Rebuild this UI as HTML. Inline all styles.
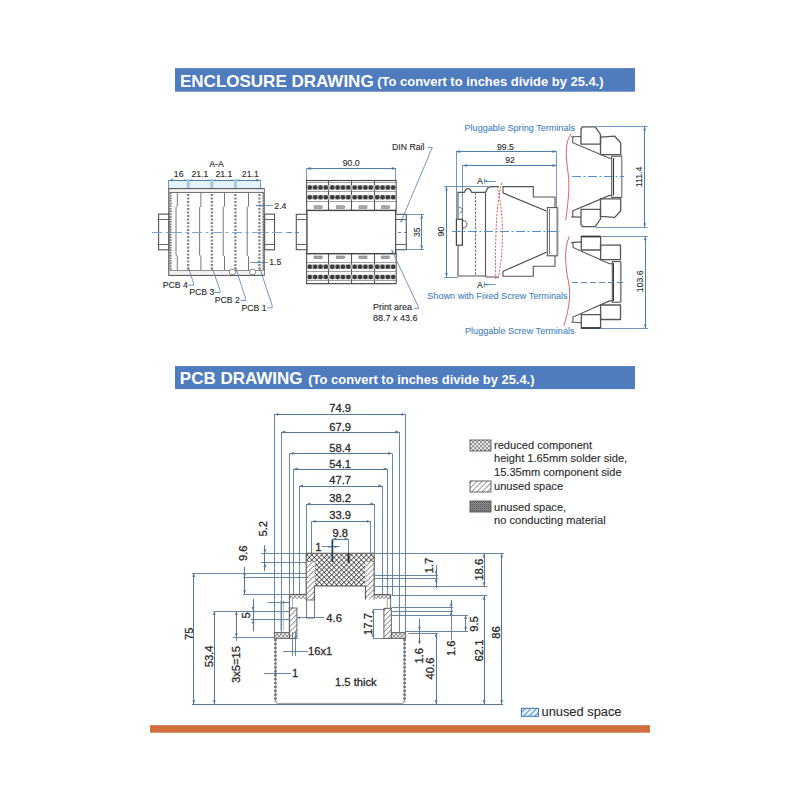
<!DOCTYPE html>
<html><head><meta charset="utf-8"><title>Enclosure and PCB drawing</title>
<style>
html,body{margin:0;padding:0;background:#fff;}
body{width:800px;height:800px;overflow:hidden;font-family:"Liberation Sans",sans-serif;}
svg{display:block;}
svg text{font-family:"Liberation Sans",sans-serif;}
</style></head>
<body>
<svg width="800" height="800" viewBox="0 0 800 800">
<defs>
<pattern id="xh" width="2.8" height="2.8" patternUnits="userSpaceOnUse" patternTransform="rotate(45)"><rect width="2.8" height="2.8" fill="#fff"/><path d="M0,0 L0,2.8 M0,0 L2.8,0" stroke="#3a3a3a" stroke-width="1.05"/></pattern>
<pattern id="xh2" width="3.5" height="3.5" patternUnits="userSpaceOnUse" patternTransform="rotate(45)"><rect width="3.5" height="3.5" fill="#fff"/><path d="M0,0 L0,3.5 M0,0 L3.5,0" stroke="#2a2a2a" stroke-width="1.4"/></pattern>
<pattern id="dh" width="3.7" height="3.7" patternUnits="userSpaceOnUse" patternTransform="rotate(45)"><rect width="3.7" height="3.7" fill="#fff"/><line x1="0" y1="0" x2="0" y2="3.7" stroke="#444" stroke-width="1.1"/></pattern>
<pattern id="dk" width="2" height="2" patternUnits="userSpaceOnUse"><rect width="2" height="2" fill="#8c8c8c"/><rect width="1" height="1" fill="#555"/><rect x="1" y="1" width="1" height="1" fill="#777"/></pattern>
<pattern id="bh" width="4" height="4" patternUnits="userSpaceOnUse" patternTransform="rotate(45)"><rect width="4" height="4" fill="#e2f2fc"/><line x1="0" y1="0" x2="0" y2="4" stroke="#3577b8" stroke-width="1.6"/></pattern>
</defs>
<rect x="175" y="68.1" width="460" height="23.6" fill="#4f7bbf" stroke="none" stroke-width="1" />
<text x="180.0" y="86.7" font-size="17.0" fill="#fff" text-anchor="start" font-weight="bold" >ENCLOSURE DRAWING</text>
<text x="377.3" y="86.2" font-size="12.95" fill="#fff" text-anchor="start" font-weight="bold" >(To convert to inches divide by 25.4.)</text>
<rect x="175" y="366.1" width="460" height="23" fill="#4f7bbf" stroke="none" stroke-width="1" />
<text x="179.8" y="383.9" font-size="17.0" fill="#fff" text-anchor="start" font-weight="bold" >PCB DRAWING</text>
<text x="308.3" y="383.8" font-size="12.95" fill="#fff" text-anchor="start" font-weight="bold" >(To convert to inches divide by 25.4.)</text>
<rect x="150" y="725.2" width="500" height="7.5" fill="#d06e3e" stroke="none" stroke-width="1" />
<text x="216.5" y="166.6" font-size="8.7" fill="#2b2b2b" text-anchor="middle" font-weight="normal" stroke="#2b2b2b" stroke-width="0.12" >A-A</text>
<text x="178.7" y="177.0" font-size="8.7" fill="#2b2b2b" text-anchor="middle" font-weight="normal" stroke="#2b2b2b" stroke-width="0.12" >16</text>
<text x="200.0" y="177.0" font-size="8.7" fill="#2b2b2b" text-anchor="middle" font-weight="normal" stroke="#2b2b2b" stroke-width="0.12" >21.1</text>
<text x="223.9" y="177.0" font-size="8.7" fill="#2b2b2b" text-anchor="middle" font-weight="normal" stroke="#2b2b2b" stroke-width="0.12" >21.1</text>
<text x="250.3" y="177.0" font-size="8.7" fill="#2b2b2b" text-anchor="middle" font-weight="normal" stroke="#2b2b2b" stroke-width="0.12" >21.1</text>
<rect x="168.7" y="180.5" width="91.5" height="8" fill="#e6f2fb" stroke="none" stroke-width="1" />
<line x1="168.7" y1="180.5" x2="260.2" y2="180.5" stroke="#4d7eab" stroke-width="1" />
<path d="M168.70,180.20 L172.70,178.80 L172.70,181.60 Z" fill="#4d7eab"/>
<path d="M260.20,180.20 L256.20,181.60 L256.20,178.80 Z" fill="#4d7eab"/>
<rect x="186.7" y="179" width="3" height="9" fill="#a3c8e6" stroke="none" stroke-width="1" />
<path d="M186.60,180.20 L184.10,181.20 L184.10,179.20 Z" fill="#4d7eab"/>
<path d="M189.80,180.20 L192.30,179.20 L192.30,181.20 Z" fill="#4d7eab"/>
<rect x="210.3" y="179" width="3" height="9" fill="#a3c8e6" stroke="none" stroke-width="1" />
<path d="M210.20,180.20 L207.70,181.20 L207.70,179.20 Z" fill="#4d7eab"/>
<path d="M213.40,180.20 L215.90,179.20 L215.90,181.20 Z" fill="#4d7eab"/>
<rect x="233.9" y="179" width="3" height="9" fill="#a3c8e6" stroke="none" stroke-width="1" />
<path d="M233.80,180.20 L231.30,181.20 L231.30,179.20 Z" fill="#4d7eab"/>
<path d="M237.00,180.20 L239.50,179.20 L239.50,181.20 Z" fill="#4d7eab"/>
<line x1="168.5" y1="180.2" x2="168.5" y2="188.5" stroke="#4d7eab" stroke-width="0.8" />
<line x1="260.5" y1="180.2" x2="260.5" y2="188.5" stroke="#4d7eab" stroke-width="0.8" />
<rect x="168.9" y="188.7" width="95.2" height="86.6" fill="none" stroke="#555" stroke-width="1.3" />
<line x1="170" y1="192.5" x2="263.5" y2="192.5" stroke="#666" stroke-width="0.9" />
<rect x="169.5" y="189.3" width="94.5" height="2.6" fill="#eee" stroke="none" stroke-width="1" />
<line x1="170" y1="270.5" x2="263.5" y2="270.5" stroke="#666" stroke-width="0.9" />
<rect x="169.5" y="270.8" width="94.5" height="3.9" fill="#f2f2f2" stroke="none" stroke-width="1" />
<line x1="170.6" y1="192.4" x2="170.6" y2="270.2" stroke="#777" stroke-width="2.0" stroke-dasharray="1.6 1"/>
<line x1="263.4" y1="192.4" x2="263.4" y2="270.2" stroke="#777" stroke-width="2.0" stroke-dasharray="1.6 1"/>
<rect x="158.6" y="214.1" width="10.1" height="35.7" fill="#fff" stroke="#555" stroke-width="1.1" />
<line x1="158.6" y1="219.5" x2="168.7" y2="219.5" stroke="#555" stroke-width="0.9" />
<line x1="158.6" y1="244.5" x2="168.7" y2="244.5" stroke="#555" stroke-width="0.9" />
<rect x="264.7" y="214.1" width="9.8" height="35.7" fill="#fff" stroke="#555" stroke-width="1.1" />
<line x1="264.7" y1="219.5" x2="274.5" y2="219.5" stroke="#555" stroke-width="0.9" />
<line x1="264.7" y1="244.5" x2="274.5" y2="244.5" stroke="#555" stroke-width="0.9" />
<path d="M177.29999999999998,193 L177.29999999999998,206 L176.0,207.5 L176.0,255 L177.29999999999998,256.5 L177.29999999999998,270" stroke="#666" stroke-width="0.9" fill="none" />
<line x1="188.2" y1="194" x2="188.2" y2="270" stroke="#808080" stroke-width="2.2" stroke-dasharray="1.9 1.6"/>
<path d="M200.9,193 L200.9,206 L199.60000000000002,207.5 L199.60000000000002,255 L200.9,256.5 L200.9,270" stroke="#666" stroke-width="0.9" fill="none" />
<line x1="211.8" y1="194" x2="211.8" y2="270" stroke="#808080" stroke-width="2.2" stroke-dasharray="1.9 1.6"/>
<path d="M224.5,193 L224.5,206 L223.20000000000002,207.5 L223.20000000000002,255 L224.5,256.5 L224.5,270" stroke="#666" stroke-width="0.9" fill="none" />
<line x1="235.4" y1="194" x2="235.4" y2="270" stroke="#808080" stroke-width="2.2" stroke-dasharray="1.9 1.6"/>
<path d="M248.49999999999997,193 L248.49999999999997,206 L247.2,207.5 L247.2,255 L248.49999999999997,256.5 L248.49999999999997,270" stroke="#666" stroke-width="0.9" fill="none" />
<line x1="259.4" y1="194" x2="259.4" y2="270" stroke="#808080" stroke-width="2.2" stroke-dasharray="1.9 1.6"/>
<rect x="229.5" y="269.3" width="6" height="5.4" fill="#fff" stroke="#666" stroke-width="0.8" rx="2.2"/>
<rect x="249.5" y="269.3" width="6" height="5.4" fill="#fff" stroke="#666" stroke-width="0.8" rx="2.2"/>
<line x1="152" y1="232.5" x2="292" y2="232.5" stroke="#79a6d2" stroke-width="1" stroke-dasharray="10 3.5 3 3.5"/>
<text x="274.3" y="208.6" font-size="8.7" fill="#2b2b2b" text-anchor="start" font-weight="normal" stroke="#2b2b2b" stroke-width="0.12" >2.4</text>
<line x1="256" y1="205.5" x2="273" y2="205.5" stroke="#4d7eab" stroke-width="0.8" />
<path d="M258.80,205.60 L261.30,204.60 L261.30,206.60 Z" fill="#4d7eab"/>
<text x="269.2" y="265.2" font-size="8.7" fill="#2b2b2b" text-anchor="start" font-weight="normal" stroke="#2b2b2b" stroke-width="0.12" >1.5</text>
<line x1="250" y1="262.5" x2="268" y2="262.5" stroke="#4d7eab" stroke-width="0.8" />
<path d="M259.80,262.50 L257.30,263.50 L257.30,261.50 Z" fill="#4d7eab"/>
<text x="162.7" y="288.0" font-size="8.7" fill="#2b2b2b" text-anchor="start" font-weight="normal" stroke="#2b2b2b" stroke-width="0.12" >PCB 4</text>
<path d="M188.29999999999998,285.2 L193.49999999999997,285.2 L193.49999999999997,283.0 L188.2,267" stroke="#4d7eab" stroke-width="0.8" fill="none" />
<text x="189.3" y="295.3" font-size="8.7" fill="#2b2b2b" text-anchor="start" font-weight="normal" stroke="#2b2b2b" stroke-width="0.12" >PCB 3</text>
<path d="M214.9,292.5 L220.1,292.5 L220.1,290.3 L211.8,267" stroke="#4d7eab" stroke-width="0.8" fill="none" />
<text x="214.8" y="303.3" font-size="8.7" fill="#2b2b2b" text-anchor="start" font-weight="normal" stroke="#2b2b2b" stroke-width="0.12" >PCB 2</text>
<path d="M240.4,300.5 L245.6,300.5 L245.6,298.3 L235.4,267" stroke="#4d7eab" stroke-width="0.8" fill="none" />
<text x="241.4" y="310.6" font-size="8.7" fill="#2b2b2b" text-anchor="start" font-weight="normal" stroke="#2b2b2b" stroke-width="0.12" >PCB 1</text>
<path d="M267.0,307.8 L272.2,307.8 L272.2,305.6 L259.4,267" stroke="#4d7eab" stroke-width="0.8" fill="none" />
<text x="351.2" y="166.0" font-size="8.7" fill="#2b2b2b" text-anchor="middle" font-weight="normal" stroke="#2b2b2b" stroke-width="0.12" >90.0</text>
<line x1="306.6" y1="168.5" x2="395.8" y2="168.5" stroke="#4d7eab" stroke-width="1" />
<path d="M306.60,168.50 L310.60,167.10 L310.60,169.90 Z" fill="#4d7eab"/>
<path d="M395.80,168.50 L391.80,169.90 L391.80,167.10 Z" fill="#4d7eab"/>
<line x1="306.5" y1="168.5" x2="306.5" y2="180.5" stroke="#4d7eab" stroke-width="0.8" />
<line x1="395.5" y1="168.5" x2="395.5" y2="180.5" stroke="#4d7eab" stroke-width="0.8" />
<rect x="306.6" y="180.5" width="89.6" height="30.2" fill="#fff" stroke="#555" stroke-width="1.1" />
<line x1="328.5" y1="180.5" x2="328.5" y2="210.7" stroke="#555" stroke-width="1.1" />
<line x1="351.5" y1="180.5" x2="351.5" y2="210.7" stroke="#555" stroke-width="1.1" />
<line x1="374.5" y1="180.5" x2="374.5" y2="210.7" stroke="#555" stroke-width="1.1" />
<line x1="306.6" y1="182.5" x2="396.2" y2="182.5" stroke="#777" stroke-width="0.7" />
<line x1="306.6" y1="191.5" x2="396.2" y2="191.5" stroke="#777" stroke-width="0.7" />
<line x1="306.6" y1="201.5" x2="396.2" y2="201.5" stroke="#777" stroke-width="0.7" />
<rect x="307.2" y="185.2" width="88.6" height="4.6" fill="#b4b4b4" stroke="none" stroke-width="1" />
<rect x="307.2" y="194.89999999999998" width="88.6" height="4.6" fill="#b4b4b4" stroke="none" stroke-width="1" />
<circle cx="309.80" cy="187.50" r="2.2" fill="#3a3a3a"/>
<circle cx="315.15" cy="187.50" r="2.2" fill="#3a3a3a"/>
<circle cx="320.50" cy="187.50" r="2.2" fill="#3a3a3a"/>
<circle cx="325.85" cy="187.50" r="2.2" fill="#3a3a3a"/>
<circle cx="309.80" cy="197.20" r="2.2" fill="#3a3a3a"/>
<circle cx="315.15" cy="197.20" r="2.2" fill="#3a3a3a"/>
<circle cx="320.50" cy="197.20" r="2.2" fill="#3a3a3a"/>
<circle cx="325.85" cy="197.20" r="2.2" fill="#3a3a3a"/>
<rect x="314.1" y="205.8" width="8" height="2.6" fill="#aaa" stroke="#666" stroke-width="0.5" />
<circle cx="332.25" cy="187.50" r="2.2" fill="#3a3a3a"/>
<circle cx="337.60" cy="187.50" r="2.2" fill="#3a3a3a"/>
<circle cx="342.95" cy="187.50" r="2.2" fill="#3a3a3a"/>
<circle cx="348.30" cy="187.50" r="2.2" fill="#3a3a3a"/>
<circle cx="332.25" cy="197.20" r="2.2" fill="#3a3a3a"/>
<circle cx="337.60" cy="197.20" r="2.2" fill="#3a3a3a"/>
<circle cx="342.95" cy="197.20" r="2.2" fill="#3a3a3a"/>
<circle cx="348.30" cy="197.20" r="2.2" fill="#3a3a3a"/>
<rect x="336.55" y="205.8" width="8" height="2.6" fill="#aaa" stroke="#666" stroke-width="0.5" />
<circle cx="354.70" cy="187.50" r="2.2" fill="#3a3a3a"/>
<circle cx="360.05" cy="187.50" r="2.2" fill="#3a3a3a"/>
<circle cx="365.40" cy="187.50" r="2.2" fill="#3a3a3a"/>
<circle cx="370.75" cy="187.50" r="2.2" fill="#3a3a3a"/>
<circle cx="354.70" cy="197.20" r="2.2" fill="#3a3a3a"/>
<circle cx="360.05" cy="197.20" r="2.2" fill="#3a3a3a"/>
<circle cx="365.40" cy="197.20" r="2.2" fill="#3a3a3a"/>
<circle cx="370.75" cy="197.20" r="2.2" fill="#3a3a3a"/>
<rect x="359.0" y="205.8" width="8" height="2.6" fill="#aaa" stroke="#666" stroke-width="0.5" />
<circle cx="377.15" cy="187.50" r="2.2" fill="#3a3a3a"/>
<circle cx="382.50" cy="187.50" r="2.2" fill="#3a3a3a"/>
<circle cx="387.85" cy="187.50" r="2.2" fill="#3a3a3a"/>
<circle cx="393.20" cy="187.50" r="2.2" fill="#3a3a3a"/>
<circle cx="377.15" cy="197.20" r="2.2" fill="#3a3a3a"/>
<circle cx="382.50" cy="197.20" r="2.2" fill="#3a3a3a"/>
<circle cx="387.85" cy="197.20" r="2.2" fill="#3a3a3a"/>
<circle cx="393.20" cy="197.20" r="2.2" fill="#3a3a3a"/>
<rect x="381.45000000000005" y="205.8" width="8" height="2.6" fill="#aaa" stroke="#666" stroke-width="0.5" />
<line x1="306.6" y1="180.5" x2="396.2" y2="180.5" stroke="#333" stroke-width="1.2" stroke-dasharray="1.3 1.5"/>
<rect x="306.6" y="253.5" width="89.6" height="30.2" fill="#fff" stroke="#555" stroke-width="1.1" />
<line x1="328.5" y1="253.5" x2="328.5" y2="283.7" stroke="#555" stroke-width="1.1" />
<line x1="351.5" y1="253.5" x2="351.5" y2="283.7" stroke="#555" stroke-width="1.1" />
<line x1="374.5" y1="253.5" x2="374.5" y2="283.7" stroke="#555" stroke-width="1.1" />
<line x1="306.6" y1="262.5" x2="396.2" y2="262.5" stroke="#777" stroke-width="0.7" />
<line x1="306.6" y1="271.5" x2="396.2" y2="271.5" stroke="#777" stroke-width="0.7" />
<line x1="306.6" y1="280.5" x2="396.2" y2="280.5" stroke="#777" stroke-width="0.7" />
<rect x="307.2" y="264.4" width="88.6" height="4.6" fill="#b4b4b4" stroke="none" stroke-width="1" />
<rect x="307.2" y="274.7" width="88.6" height="4.6" fill="#b4b4b4" stroke="none" stroke-width="1" />
<circle cx="309.80" cy="266.70" r="2.2" fill="#3a3a3a"/>
<circle cx="315.15" cy="266.70" r="2.2" fill="#3a3a3a"/>
<circle cx="320.50" cy="266.70" r="2.2" fill="#3a3a3a"/>
<circle cx="325.85" cy="266.70" r="2.2" fill="#3a3a3a"/>
<circle cx="309.80" cy="277.00" r="2.2" fill="#3a3a3a"/>
<circle cx="315.15" cy="277.00" r="2.2" fill="#3a3a3a"/>
<circle cx="320.50" cy="277.00" r="2.2" fill="#3a3a3a"/>
<circle cx="325.85" cy="277.00" r="2.2" fill="#3a3a3a"/>
<rect x="314.1" y="256.0" width="8" height="2.6" fill="#aaa" stroke="#666" stroke-width="0.5" />
<circle cx="332.25" cy="266.70" r="2.2" fill="#3a3a3a"/>
<circle cx="337.60" cy="266.70" r="2.2" fill="#3a3a3a"/>
<circle cx="342.95" cy="266.70" r="2.2" fill="#3a3a3a"/>
<circle cx="348.30" cy="266.70" r="2.2" fill="#3a3a3a"/>
<circle cx="332.25" cy="277.00" r="2.2" fill="#3a3a3a"/>
<circle cx="337.60" cy="277.00" r="2.2" fill="#3a3a3a"/>
<circle cx="342.95" cy="277.00" r="2.2" fill="#3a3a3a"/>
<circle cx="348.30" cy="277.00" r="2.2" fill="#3a3a3a"/>
<rect x="336.55" y="256.0" width="8" height="2.6" fill="#aaa" stroke="#666" stroke-width="0.5" />
<circle cx="354.70" cy="266.70" r="2.2" fill="#3a3a3a"/>
<circle cx="360.05" cy="266.70" r="2.2" fill="#3a3a3a"/>
<circle cx="365.40" cy="266.70" r="2.2" fill="#3a3a3a"/>
<circle cx="370.75" cy="266.70" r="2.2" fill="#3a3a3a"/>
<circle cx="354.70" cy="277.00" r="2.2" fill="#3a3a3a"/>
<circle cx="360.05" cy="277.00" r="2.2" fill="#3a3a3a"/>
<circle cx="365.40" cy="277.00" r="2.2" fill="#3a3a3a"/>
<circle cx="370.75" cy="277.00" r="2.2" fill="#3a3a3a"/>
<rect x="359.0" y="256.0" width="8" height="2.6" fill="#aaa" stroke="#666" stroke-width="0.5" />
<circle cx="377.15" cy="266.70" r="2.2" fill="#3a3a3a"/>
<circle cx="382.50" cy="266.70" r="2.2" fill="#3a3a3a"/>
<circle cx="387.85" cy="266.70" r="2.2" fill="#3a3a3a"/>
<circle cx="393.20" cy="266.70" r="2.2" fill="#3a3a3a"/>
<circle cx="377.15" cy="277.00" r="2.2" fill="#3a3a3a"/>
<circle cx="382.50" cy="277.00" r="2.2" fill="#3a3a3a"/>
<circle cx="387.85" cy="277.00" r="2.2" fill="#3a3a3a"/>
<circle cx="393.20" cy="277.00" r="2.2" fill="#3a3a3a"/>
<rect x="381.45000000000005" y="256.0" width="8" height="2.6" fill="#aaa" stroke="#666" stroke-width="0.5" />
<line x1="306.6" y1="283.5" x2="396.2" y2="283.5" stroke="#333" stroke-width="1.2" stroke-dasharray="1.3 1.5"/>
<rect x="306.8" y="210.4" width="88.9" height="43.3" fill="#fff" stroke="#444" stroke-width="1.4" />
<rect x="296.3" y="214.3" width="10.5" height="35.4" fill="#fff" stroke="#555" stroke-width="1.1" />
<line x1="296.3" y1="219.5" x2="306.8" y2="219.5" stroke="#555" stroke-width="0.9" />
<line x1="296.3" y1="244.5" x2="306.8" y2="244.5" stroke="#555" stroke-width="0.9" />
<rect x="395.7" y="214.3" width="10.6" height="35.4" fill="#fff" stroke="#555" stroke-width="1.1" />
<line x1="395.7" y1="219.5" x2="406.3" y2="219.5" stroke="#555" stroke-width="0.9" />
<line x1="395.7" y1="244.5" x2="406.3" y2="244.5" stroke="#555" stroke-width="0.9" />
<line x1="288" y1="232.5" x2="300" y2="232.5" stroke="#3f86c8" stroke-width="0.9" stroke-dasharray="4 3"/>
<line x1="398" y1="232.5" x2="406" y2="232.5" stroke="#3f86c8" stroke-width="0.9" stroke-dasharray="3 3"/>
<line x1="406.3" y1="214.5" x2="424" y2="214.5" stroke="#4d7eab" stroke-width="0.8" />
<line x1="406.3" y1="249.5" x2="424" y2="249.5" stroke="#4d7eab" stroke-width="0.8" />
<line x1="421.5" y1="214.6" x2="421.5" y2="249.6" stroke="#4d7eab" stroke-width="1" />
<path d="M421.70,214.60 L423.10,218.60 L420.30,218.60 Z" fill="#4d7eab"/>
<path d="M421.70,249.60 L420.30,245.60 L423.10,245.60 Z" fill="#4d7eab"/>
<text x="419.6" y="232.2" font-size="8.7" fill="#2b2b2b" text-anchor="middle" font-weight="normal" transform="rotate(-90 419.6 232.2)" stroke="#2b2b2b" stroke-width="0.12" >35</text>
<text x="392.0" y="150.0" font-size="8.7" fill="#2b2b2b" text-anchor="start" font-weight="normal" stroke="#2b2b2b" stroke-width="0.12" >DIN Rail</text>
<path d="M427.5,147.4 L432.3,147.4 L400.7,222.3" stroke="#4d7eab" stroke-width="0.8" fill="none" />
<path d="M400.70,222.30 L400.85,219.11 L402.88,219.96 Z" fill="#4d7eab"/>
<text x="373.0" y="310.4" font-size="9.0" fill="#2b2b2b" text-anchor="start" font-weight="normal" stroke="#2b2b2b" stroke-width="0.12" >Print area</text>
<text x="373.0" y="320.9" font-size="9.0" fill="#2b2b2b" text-anchor="start" font-weight="normal" stroke="#2b2b2b" stroke-width="0.12" >88.7 x 43.6</text>
<path d="M413.8,308.3 L419,308.3 L391.6,249.8" stroke="#4d7eab" stroke-width="0.8" fill="none" />
<path d="M391.60,249.80 L393.87,252.05 L391.88,252.98 Z" fill="#4d7eab"/>
<text x="505.5" y="149.9" font-size="8.7" fill="#2b2b2b" text-anchor="middle" font-weight="normal" stroke="#2b2b2b" stroke-width="0.12" >99.5</text>
<line x1="456.0" y1="151.5" x2="556.5" y2="151.5" stroke="#4d7eab" stroke-width="1" />
<path d="M456.00,151.50 L460.00,150.10 L460.00,152.90 Z" fill="#4d7eab"/>
<path d="M556.50,151.50 L552.50,152.90 L552.50,150.10 Z" fill="#4d7eab"/>
<text x="510.0" y="162.5" font-size="8.7" fill="#2b2b2b" text-anchor="middle" font-weight="normal" stroke="#2b2b2b" stroke-width="0.12" >92</text>
<line x1="462.6" y1="165.5" x2="556.5" y2="165.5" stroke="#4d7eab" stroke-width="1" />
<path d="M462.60,165.50 L466.60,164.10 L466.60,166.90 Z" fill="#4d7eab"/>
<path d="M556.50,165.50 L552.50,166.90 L552.50,164.10 Z" fill="#4d7eab"/>
<line x1="456.5" y1="151.5" x2="456.5" y2="219" stroke="#4d7eab" stroke-width="0.8" />
<line x1="462.5" y1="165.5" x2="462.5" y2="219" stroke="#4d7eab" stroke-width="0.8" />
<line x1="556.5" y1="151.5" x2="556.5" y2="208" stroke="#4d7eab" stroke-width="0.8" />
<line x1="446.5" y1="186.6" x2="446.5" y2="277.0" stroke="#4d7eab" stroke-width="1" />
<path d="M446.50,186.60 L447.90,190.60 L445.10,190.60 Z" fill="#4d7eab"/>
<path d="M446.50,277.00 L445.10,273.00 L447.90,273.00 Z" fill="#4d7eab"/>
<line x1="444" y1="186.5" x2="488" y2="186.5" stroke="#4d7eab" stroke-width="0.8" />
<line x1="444" y1="277.5" x2="458" y2="277.5" stroke="#4d7eab" stroke-width="0.8" />
<text x="443.8" y="231.6" font-size="8.7" fill="#2b2b2b" text-anchor="middle" font-weight="normal" transform="rotate(-90 443.8 231.6)" stroke="#2b2b2b" stroke-width="0.12" >90</text>
<path d="M458,218.5 L458,192.4 L464.4,192.4 Q465.5,188.6 467.8,188.6 Q470.2,188.6 471.6,192.4 L484.6,192.4 Q486.2,192.4 487,189.5 Q488,186.6 491,186.6 L499,186.6 M458,245.2 L458,276 L484.5,276 Q486,276 487,277 L499,277" stroke="#555" stroke-width="1.1" fill="none" />
<rect x="456.4" y="219.2" width="6" height="26" fill="#fff" stroke="#444" stroke-width="1.2" />
<path d="M462.4,220.5 Q467,220.5 467,224.3 Q467,228 462.4,228" stroke="#555" stroke-width="1.0" fill="none" />
<path d="M459,207 Q462.5,207.5 462.5,210 Q462.5,212.5 459.5,213" stroke="#555" stroke-width="0.8" fill="none" />
<line x1="475.5" y1="192.4" x2="475.5" y2="276" stroke="#777" stroke-width="1.2" stroke-dasharray="2.5 1.3"/>
<line x1="485.5" y1="192.4" x2="485.5" y2="276" stroke="#555" stroke-width="1.1" />
<path d="M503,192.8 L503,186.6 L533.3,186.6 L533.3,197 L555,197 L555,207.6 M503,271.5 L503,276.3 L533.3,276.3 L533.3,266.3 L555,266.3 L555,255.8" stroke="#555" stroke-width="1.1" fill="none" />
<path d="M502.6,192.8 L546.4,211.1 M502.6,271.5 L546.4,252.3" stroke="#444" stroke-width="1.1" fill="none" />
<rect x="547.3" y="207.6" width="10" height="48.2" fill="#fff" stroke="#555" stroke-width="1.1" />
<line x1="557.5" y1="208" x2="557.5" y2="255.5" stroke="#888" stroke-width="1.6" />
<line x1="549.5" y1="209" x2="549.5" y2="254" stroke="#555" stroke-width="0.8" />
<line x1="452" y1="231.5" x2="560" y2="231.5" stroke="#3f86c8" stroke-width="0.9" stroke-dasharray="9 2.5 2 2.5"/>
<path d="M501.8,182.8 C495.5,205 495,250 495.8,279" stroke="#d9534f" stroke-width="0.9" fill="none" stroke-dasharray="2.2 1.3"/>
<path d="M497,186 C504,212 504,252 498.2,278" stroke="#d9534f" stroke-width="0.9" fill="none" stroke-dasharray="2.2 1.3"/>
<text x="479.9" y="184.0" font-size="8.7" fill="#2b2b2b" text-anchor="middle" font-weight="normal" stroke="#2b2b2b" stroke-width="0.12" >A</text>
<line x1="484.2" y1="181.5" x2="495.6" y2="181.5" stroke="#4d7eab" stroke-width="0.8" />
<path d="M484.20,181.00 L487.20,179.80 L487.20,182.20 Z" fill="#4d7eab"/>
<line x1="484.5" y1="178.5" x2="484.5" y2="183.5" stroke="#4d7eab" stroke-width="0.8" />
<text x="479.9" y="287.6" font-size="8.7" fill="#2b2b2b" text-anchor="middle" font-weight="normal" stroke="#2b2b2b" stroke-width="0.12" >A</text>
<line x1="484.2" y1="284.5" x2="495.6" y2="284.5" stroke="#4d7eab" stroke-width="0.8" />
<path d="M484.20,284.60 L487.20,283.40 L487.20,285.80 Z" fill="#4d7eab"/>
<line x1="484.5" y1="282.1" x2="484.5" y2="287.1" stroke="#4d7eab" stroke-width="0.8" />
<text x="427.3" y="299.1" font-size="9.1" fill="#3f80c0" text-anchor="start" font-weight="normal" stroke="#3f80c0" stroke-width="0.08" >Shown with Fixed Screw Terminals</text>
<path d="M581.00,129.00 L582.50,126.90 L595.20,126.90 L600.50,134.50 L600.50,144.20 L581.00,144.20 Z" stroke="#555" stroke-width="1.3" fill="none" />
<path d="M581.00,224.60 L582.50,226.70 L595.20,226.70 L600.50,219.10 L600.50,209.40 L581.00,209.40 Z" stroke="#555" stroke-width="1.3" fill="none" />
<path d="M600.50,137.20 L614.70,136.20 L620.70,142.70 L620.70,154.70 L600.50,154.70 Z" stroke="#555" stroke-width="1.3" fill="none" />
<path d="M600.50,216.40 L614.70,217.40 L620.70,210.90 L620.70,198.90 L600.50,198.90 Z" stroke="#555" stroke-width="1.3" fill="none" />
<path d="M571.20,136.70 L581.00,136.50" stroke="#555" stroke-width="1.1" fill="none" />
<path d="M571.20,216.90 L581.00,217.10" stroke="#555" stroke-width="1.1" fill="none" />
<path d="M572.70,136.90 L572.70,142.70 L609.50,158.20 L611.70,158.20" stroke="#555" stroke-width="1.1" fill="none" />
<path d="M572.70,216.70 L572.70,210.90 L609.50,195.40 L611.70,195.40" stroke="#555" stroke-width="1.1" fill="none" />
<rect x="611.7" y="156.2" width="9.8" height="41.2" fill="#fff" stroke="#555" stroke-width="1.1" />
<line x1="613.5" y1="158" x2="613.5" y2="195.5" stroke="#333" stroke-width="1.0" />
<line x1="621.8" y1="157" x2="621.8" y2="197" stroke="#999" stroke-width="1.4" />
<path d="M581.30,236.40 L600.60,236.40 L600.60,250.00 L581.30,250.00 Z" stroke="#555" stroke-width="1.3" fill="none" />
<path d="M581.30,328.20 L600.60,328.20 L600.60,314.60 L581.30,314.60 Z" stroke="#555" stroke-width="1.3" fill="none" />
<path d="M600.60,245.10 L620.50,245.10 L620.50,259.60 L600.60,259.60 Z" stroke="#555" stroke-width="1.3" fill="none" />
<path d="M600.60,319.50 L620.50,319.50 L620.50,305.00 L600.60,305.00 Z" stroke="#555" stroke-width="1.3" fill="none" />
<path d="M571.20,242.60 L581.30,241.90" stroke="#555" stroke-width="1.1" fill="none" />
<path d="M571.20,322.00 L581.30,322.70" stroke="#555" stroke-width="1.1" fill="none" />
<path d="M573.00,242.80 L573.00,247.50 L609.50,263.70 L612.30,263.70" stroke="#555" stroke-width="1.1" fill="none" />
<path d="M573.00,321.80 L573.00,317.10 L609.50,300.90 L612.30,300.90" stroke="#555" stroke-width="1.1" fill="none" />
<line x1="581.3" y1="236.6" x2="600.6" y2="236.6" stroke="#333" stroke-width="1.6" />
<line x1="581.3" y1="328.0" x2="600.6" y2="328.0" stroke="#333" stroke-width="1.6" />
<rect x="612.3" y="261.6" width="8.2" height="40.6" fill="#fff" stroke="#555" stroke-width="1.1" />
<line x1="613.5" y1="263" x2="613.5" y2="301" stroke="#333" stroke-width="1.0" />
<line x1="621.0" y1="262" x2="621.0" y2="302" stroke="#999" stroke-width="1.4" />
<line x1="572" y1="176.5" x2="624" y2="176.5" stroke="#3f86c8" stroke-width="0.9" stroke-dasharray="9 2.5 2 2.5"/>
<line x1="572" y1="282.5" x2="624" y2="282.5" stroke="#4d7eab" stroke-width="0.9" stroke-dasharray="6 3"/>
<path d="M571.2,133.7 C565,142 565.5,155 568,172 C570.5,190 567,208 565.8,220" stroke="#d9534f" stroke-width="0.9" fill="none" />
<path d="M569.3,236.5 C564,248 565,265 568.5,282 C572,298 567,315 563.8,326" stroke="#d9534f" stroke-width="0.9" fill="none" />
<line x1="596" y1="126.5" x2="647.5" y2="126.5" stroke="#4d7eab" stroke-width="0.8" />
<line x1="596" y1="227.5" x2="647.5" y2="227.5" stroke="#4d7eab" stroke-width="0.8" />
<line x1="644.5" y1="126.6" x2="644.5" y2="227.2" stroke="#4d7eab" stroke-width="1" />
<path d="M644.70,126.60 L646.10,130.60 L643.30,130.60 Z" fill="#4d7eab"/>
<path d="M644.70,227.20 L643.30,223.20 L646.10,223.20 Z" fill="#4d7eab"/>
<text x="641.9" y="176.9" font-size="8.7" fill="#2b2b2b" text-anchor="middle" font-weight="normal" transform="rotate(-90 641.9 176.9)" stroke="#2b2b2b" stroke-width="0.12" >111.4</text>
<line x1="600" y1="236.5" x2="648" y2="236.5" stroke="#4d7eab" stroke-width="0.8" />
<line x1="600" y1="328.5" x2="648" y2="328.5" stroke="#4d7eab" stroke-width="0.8" />
<line x1="645.5" y1="236.2" x2="645.5" y2="328.4" stroke="#4d7eab" stroke-width="1" />
<path d="M645.30,236.20 L646.70,240.20 L643.90,240.20 Z" fill="#4d7eab"/>
<path d="M645.30,328.40 L643.90,324.40 L646.70,324.40 Z" fill="#4d7eab"/>
<text x="642.9" y="281.3" font-size="8.7" fill="#2b2b2b" text-anchor="middle" font-weight="normal" transform="rotate(-90 642.9 281.3)" stroke="#2b2b2b" stroke-width="0.12" >103.6</text>
<text x="464.5" y="130.7" font-size="9.1" fill="#3f80c0" text-anchor="start" font-weight="normal" stroke="#3f80c0" stroke-width="0.08" >Pluggable Spring Terminals</text>
<text x="465.0" y="333.8" font-size="9.1" fill="#3f80c0" text-anchor="start" font-weight="normal" stroke="#3f80c0" stroke-width="0.08" >Pluggable Screw Terminals</text>
<line x1="274.4" y1="414.5" x2="405.4" y2="414.5" stroke="#56799a" stroke-width="1" />
<path d="M274.40,414.40 L278.40,413.00 L278.40,415.80 Z" fill="#56799a"/>
<path d="M405.40,414.40 L401.40,415.80 L401.40,413.00 Z" fill="#56799a"/>
<line x1="274.5" y1="414.4" x2="274.5" y2="632.5" stroke="#56799a" stroke-width="0.9" />
<line x1="405.5" y1="414.4" x2="405.5" y2="632.5" stroke="#56799a" stroke-width="0.9" />
<text x="340.2" y="412.0" font-size="11.2" fill="#2b2b2b" text-anchor="middle" font-weight="normal" stroke="#2b2b2b" stroke-width="0.3" >74.9</text>
<line x1="281.4" y1="432.5" x2="399.3" y2="432.5" stroke="#56799a" stroke-width="1" />
<path d="M281.40,432.00 L285.40,430.60 L285.40,433.40 Z" fill="#56799a"/>
<path d="M399.30,432.00 L395.30,433.40 L395.30,430.60 Z" fill="#56799a"/>
<line x1="281.5" y1="432.0" x2="281.5" y2="632.5" stroke="#56799a" stroke-width="0.9" />
<line x1="399.5" y1="432.0" x2="399.5" y2="632.5" stroke="#56799a" stroke-width="0.9" />
<text x="340.2" y="430.6" font-size="11.2" fill="#2b2b2b" text-anchor="middle" font-weight="normal" stroke="#2b2b2b" stroke-width="0.3" >67.9</text>
<line x1="289.6" y1="453.5" x2="392.0" y2="453.5" stroke="#56799a" stroke-width="1" />
<path d="M289.60,453.40 L293.60,452.00 L293.60,454.80 Z" fill="#56799a"/>
<path d="M392.00,453.40 L388.00,454.80 L388.00,452.00 Z" fill="#56799a"/>
<line x1="289.5" y1="453.4" x2="289.5" y2="594.4" stroke="#56799a" stroke-width="0.9" />
<line x1="392.5" y1="453.4" x2="392.5" y2="595.3" stroke="#56799a" stroke-width="0.9" />
<text x="340.2" y="452.0" font-size="11.2" fill="#2b2b2b" text-anchor="middle" font-weight="normal" stroke="#2b2b2b" stroke-width="0.3" >58.4</text>
<line x1="293.6" y1="469.5" x2="387.6" y2="469.5" stroke="#56799a" stroke-width="1" />
<path d="M293.60,469.00 L297.60,467.60 L297.60,470.40 Z" fill="#56799a"/>
<path d="M387.60,469.00 L383.60,470.40 L383.60,467.60 Z" fill="#56799a"/>
<line x1="293.5" y1="469.0" x2="293.5" y2="594.4" stroke="#56799a" stroke-width="0.9" />
<line x1="387.5" y1="469.0" x2="387.5" y2="594.4" stroke="#56799a" stroke-width="0.9" />
<text x="340.2" y="467.6" font-size="11.2" fill="#2b2b2b" text-anchor="middle" font-weight="normal" stroke="#2b2b2b" stroke-width="0.3" >54.1</text>
<line x1="299.0" y1="486.5" x2="382.4" y2="486.5" stroke="#56799a" stroke-width="1" />
<path d="M299.00,486.00 L303.00,484.60 L303.00,487.40 Z" fill="#56799a"/>
<path d="M382.40,486.00 L378.40,487.40 L378.40,484.60 Z" fill="#56799a"/>
<line x1="299.5" y1="486.0" x2="299.5" y2="594.4" stroke="#56799a" stroke-width="0.9" />
<line x1="382.5" y1="486.0" x2="382.5" y2="594.4" stroke="#56799a" stroke-width="0.9" />
<text x="340.2" y="484.0" font-size="11.2" fill="#2b2b2b" text-anchor="middle" font-weight="normal" stroke="#2b2b2b" stroke-width="0.3" >47.7</text>
<line x1="306.6" y1="504.5" x2="374.4" y2="504.5" stroke="#56799a" stroke-width="1" />
<path d="M306.60,504.00 L310.60,502.60 L310.60,505.40 Z" fill="#56799a"/>
<path d="M374.40,504.00 L370.40,505.40 L370.40,502.60 Z" fill="#56799a"/>
<line x1="306.5" y1="504.0" x2="306.5" y2="553.2" stroke="#56799a" stroke-width="0.9" />
<line x1="374.5" y1="504.0" x2="374.5" y2="553.2" stroke="#56799a" stroke-width="0.9" />
<text x="340.2" y="502.4" font-size="11.2" fill="#2b2b2b" text-anchor="middle" font-weight="normal" stroke="#2b2b2b" stroke-width="0.3" >38.2</text>
<line x1="311.6" y1="521.5" x2="370.6" y2="521.5" stroke="#56799a" stroke-width="1" />
<path d="M311.60,521.40 L315.60,520.00 L315.60,522.80 Z" fill="#56799a"/>
<path d="M370.60,521.40 L366.60,522.80 L366.60,520.00 Z" fill="#56799a"/>
<line x1="311.5" y1="521.4" x2="311.5" y2="553.2" stroke="#56799a" stroke-width="0.9" />
<line x1="370.5" y1="521.4" x2="370.5" y2="553.2" stroke="#56799a" stroke-width="0.9" />
<text x="340.2" y="519.0" font-size="11.2" fill="#2b2b2b" text-anchor="middle" font-weight="normal" stroke="#2b2b2b" stroke-width="0.3" >33.9</text>
<line x1="332.4" y1="539.5" x2="348.6" y2="539.5" stroke="#56799a" stroke-width="1" />
<path d="M332.40,539.00 L336.40,537.60 L336.40,540.40 Z" fill="#56799a"/>
<path d="M348.60,539.00 L344.60,540.40 L344.60,537.60 Z" fill="#56799a"/>
<line x1="332.5" y1="539.0" x2="332.5" y2="553.2" stroke="#56799a" stroke-width="0.9" />
<line x1="348.5" y1="539.0" x2="348.5" y2="553.2" stroke="#56799a" stroke-width="0.9" />
<text x="340.2" y="536.9" font-size="11.2" fill="#2b2b2b" text-anchor="middle" font-weight="normal" stroke="#2b2b2b" stroke-width="0.3" >9.8</text>
<text x="318.3" y="550.5" font-size="11.2" fill="#2b2b2b" text-anchor="middle" font-weight="normal" stroke="#2b2b2b" stroke-width="0.3" >1</text>
<line x1="321.8" y1="546.5" x2="340" y2="546.5" stroke="#56799a" stroke-width="0.9" />
<path d="M331.60,546.80 L328.60,548.20 L328.60,545.40 Z" fill="#56799a"/>
<path d="M333.40,546.80 L336.40,545.40 L336.40,548.20 Z" fill="#56799a"/>
<path d="M275.6,638.5 L275.6,701 Q275.6,703.4 278,703.4 L402,703.4 Q404.4,703.4 404.4,701 L404.4,638.5" stroke="#999" stroke-width="1.0" fill="none" />
<line x1="275.4" y1="639" x2="275.4" y2="702" stroke="#707070" stroke-width="2.5" stroke-dasharray="2.2 1.7"/>
<line x1="404.6" y1="639" x2="404.6" y2="702" stroke="#707070" stroke-width="2.5" stroke-dasharray="2.2 1.7"/>
<rect x="306.2" y="553.2" width="68" height="8.8" fill="url(#xh2)" stroke="none" stroke-width="1" />
<rect x="314.5" y="562" width="51" height="24" fill="url(#xh2)" stroke="none" stroke-width="1" />
<rect x="306.2" y="562" width="8.2" height="38" fill="url(#dh)" stroke="none" stroke-width="1" />
<rect x="365.5" y="562" width="8.7" height="37.5" fill="url(#dh)" stroke="none" stroke-width="1" />
<path d="M306.2,600 L306.2,553.2 L374.2,553.2 L374.2,599.5 M314.4,600 L314.4,586 L365.5,586 L365.5,599.5" stroke="#555" stroke-width="1.1" fill="none" />
<rect x="289.4" y="594.4" width="16.8" height="4.4" fill="url(#xh)" stroke="none" stroke-width="1" />
<rect x="374.2" y="594.6" width="16.4" height="4.1" fill="url(#xh)" stroke="none" stroke-width="1" />
<path d="M289.4,594.4 L306.2,594.4 M289.4,594.4 L289.4,638.5 M390.6,594.6 L374.2,594.6 M390.6,594.6 L390.6,608.3" stroke="#555" stroke-width="1.0" fill="none" />
<rect x="306.6" y="600" width="7.8" height="18" fill="none" stroke="#666" stroke-width="0.9" />
<rect x="387.2" y="598.7" width="3.4" height="9.6" fill="none" stroke="#888" stroke-width="0.7" />
<line x1="292.5" y1="598.5" x2="292.5" y2="620" stroke="#56799a" stroke-width="0.6" />
<rect x="289.4" y="608" width="7.5" height="30.5" fill="url(#dh)" stroke="#555" stroke-width="0.9" />
<rect x="383.9" y="608.3" width="7.4" height="30.2" fill="url(#dh)" stroke="#555" stroke-width="0.9" />
<rect x="274.5" y="632.4" width="14.9" height="6.1" fill="url(#xh)" stroke="#555" stroke-width="0.8" />
<rect x="391.3" y="632.4" width="14.4" height="6.1" fill="url(#xh)" stroke="#555" stroke-width="0.8" />
<line x1="332.4" y1="540" x2="332.4" y2="562" stroke="#1f4466" stroke-width="1.8" />
<line x1="348.6" y1="553" x2="348.6" y2="562.5" stroke="#222" stroke-width="1.8" />
<line x1="261" y1="553.5" x2="306.2" y2="553.5" stroke="#56799a" stroke-width="0.9" />
<line x1="261" y1="562.5" x2="306.2" y2="562.5" stroke="#56799a" stroke-width="0.9" />
<line x1="192" y1="573.5" x2="306.2" y2="573.5" stroke="#56799a" stroke-width="0.9" />
<line x1="243" y1="577.5" x2="306.2" y2="577.5" stroke="#56799a" stroke-width="0.9" />
<line x1="243" y1="594.5" x2="289" y2="594.5" stroke="#56799a" stroke-width="0.9" />
<line x1="213.5" y1="611.5" x2="289" y2="611.5" stroke="#56799a" stroke-width="0.9" />
<line x1="251" y1="619.5" x2="289" y2="619.5" stroke="#56799a" stroke-width="0.9" />
<line x1="233" y1="637.5" x2="275" y2="637.5" stroke="#56799a" stroke-width="0.9" />
<line x1="192" y1="704.5" x2="503" y2="704.5" stroke="#56799a" stroke-width="1.0" />
<line x1="193.5" y1="573.0" x2="193.5" y2="704.3" stroke="#56799a" stroke-width="1" />
<path d="M193.75,573.00 L195.15,577.00 L192.35,577.00 Z" fill="#56799a"/>
<path d="M193.75,704.30 L192.35,700.30 L195.15,700.30 Z" fill="#56799a"/>
<text x="192.71" y="633.7" font-size="11.2" fill="#2b2b2b" text-anchor="middle" font-weight="normal" transform="rotate(-90 192.71 633.7)" stroke="#2b2b2b" stroke-width="0.3" >75</text>
<line x1="214.5" y1="611.0" x2="214.5" y2="704.3" stroke="#56799a" stroke-width="1" />
<path d="M214.30,611.00 L215.70,615.00 L212.90,615.00 Z" fill="#56799a"/>
<path d="M214.30,704.30 L212.90,700.30 L215.70,700.30 Z" fill="#56799a"/>
<text x="212.71" y="656.3" font-size="11.2" fill="#2b2b2b" text-anchor="middle" font-weight="normal" transform="rotate(-90 212.71 656.3)" stroke="#2b2b2b" stroke-width="0.3" >53.4</text>
<line x1="236.5" y1="611.0" x2="236.5" y2="637.3" stroke="#56799a" stroke-width="1" />
<path d="M236.30,611.00 L237.70,615.00 L234.90,615.00 Z" fill="#56799a"/>
<path d="M236.30,637.30 L234.90,633.30 L237.70,633.30 Z" fill="#56799a"/>
<line x1="236.5" y1="637.3" x2="236.5" y2="641" stroke="#56799a" stroke-width="0.9" />
<text x="240.31" y="664.5" font-size="11.2" fill="#2b2b2b" text-anchor="middle" font-weight="normal" transform="rotate(-90 240.31 664.5)" stroke="#2b2b2b" stroke-width="0.3" >3x5=15</text>
<line x1="253.5" y1="599.0" x2="253.5" y2="631.4" stroke="#56799a" stroke-width="1" />
<path d="M253.10,611.00 L251.70,607.00 L254.50,607.00 Z" fill="#56799a"/>
<path d="M253.10,619.40 L254.50,623.40 L251.70,623.40 Z" fill="#56799a"/>
<text x="250.31" y="615.4" font-size="11.2" fill="#2b2b2b" text-anchor="middle" font-weight="normal" transform="rotate(-90 250.31 615.4)" stroke="#2b2b2b" stroke-width="0.3" >5</text>
<line x1="244.5" y1="566.8" x2="244.5" y2="594.4" stroke="#56799a" stroke-width="1" />
<path d="M244.60,577.50 L243.20,573.50 L246.00,573.50 Z" fill="#56799a"/>
<path d="M244.60,594.10 L243.20,590.10 L246.00,590.10 Z" fill="#56799a"/>
<text x="247.31" y="553.3" font-size="11.2" fill="#2b2b2b" text-anchor="middle" font-weight="normal" transform="rotate(-90 247.31 553.3)" stroke="#2b2b2b" stroke-width="0.3" >9.6</text>
<line x1="264.5" y1="545.0" x2="264.5" y2="571.1999999999999" stroke="#56799a" stroke-width="1" />
<path d="M264.90,553.30 L263.50,549.30 L266.30,549.30 Z" fill="#56799a"/>
<path d="M264.90,562.90 L266.30,566.90 L263.50,566.90 Z" fill="#56799a"/>
<text x="267.01" y="528.8" font-size="11.2" fill="#2b2b2b" text-anchor="middle" font-weight="normal" transform="rotate(-90 267.01 528.8)" stroke="#2b2b2b" stroke-width="0.3" >5.2</text>
<line x1="267.5" y1="602.5" x2="290" y2="602.5" stroke="#56799a" stroke-width="0.9" />
<path d="M286.00,602.50 L283.00,603.90 L283.00,601.10 Z" fill="#56799a"/>
<line x1="280.5" y1="600.6" x2="280.5" y2="630.6" stroke="#7da0c4" stroke-width="0.6" />
<line x1="283.5" y1="600.6" x2="283.5" y2="630.6" stroke="#7da0c4" stroke-width="0.6" />
<line x1="296.9" y1="617.5" x2="324" y2="617.5" stroke="#56799a" stroke-width="0.9" />
<path d="M297.10,617.80 L300.10,616.40 L300.10,619.20 Z" fill="#56799a"/>
<text x="326.3" y="622.0" font-size="11.2" fill="#2b2b2b" text-anchor="start" font-weight="normal" stroke="#2b2b2b" stroke-width="0.3" >4.6</text>
<line x1="292.5" y1="632" x2="292.5" y2="656" stroke="#56799a" stroke-width="0.9" />
<line x1="295.5" y1="632" x2="295.5" y2="656" stroke="#56799a" stroke-width="0.9" />
<line x1="283" y1="651.5" x2="308" y2="651.5" stroke="#56799a" stroke-width="0.9" />
<text x="308.0" y="655.0" font-size="11.2" fill="#2b2b2b" text-anchor="start" font-weight="normal" stroke="#2b2b2b" stroke-width="0.3" >16x1</text>
<line x1="264" y1="673.5" x2="291" y2="673.5" stroke="#56799a" stroke-width="0.9" />
<line x1="275.5" y1="669" x2="275.5" y2="677" stroke="#56799a" stroke-width="0.9" />
<text x="292.0" y="677.0" font-size="11.2" fill="#2b2b2b" text-anchor="start" font-weight="normal" stroke="#2b2b2b" stroke-width="0.3" >1</text>
<text x="335.0" y="686.0" font-size="11.2" fill="#2b2b2b" text-anchor="start" font-weight="normal" stroke="#2b2b2b" stroke-width="0.3" >1.5 thick</text>
<line x1="374.2" y1="553.5" x2="504" y2="553.5" stroke="#56799a" stroke-width="0.9" />
<line x1="374.2" y1="575.5" x2="438" y2="575.5" stroke="#56799a" stroke-width="0.9" />
<line x1="374.2" y1="578.5" x2="438" y2="578.5" stroke="#56799a" stroke-width="0.9" />
<line x1="374.2" y1="586.5" x2="487" y2="586.5" stroke="#56799a" stroke-width="0.9" />
<line x1="391.5" y1="595.5" x2="487" y2="595.5" stroke="#56799a" stroke-width="0.9" />
<line x1="391.5" y1="607.5" x2="453" y2="607.5" stroke="#56799a" stroke-width="0.9" />
<line x1="391.5" y1="611.5" x2="453" y2="611.5" stroke="#56799a" stroke-width="0.9" />
<line x1="391.5" y1="615.5" x2="468" y2="615.5" stroke="#56799a" stroke-width="0.9" />
<line x1="405.5" y1="631.5" x2="468" y2="631.5" stroke="#56799a" stroke-width="0.9" />
<line x1="408.5" y1="633.5" x2="438" y2="633.5" stroke="#56799a" stroke-width="0.9" />
<line x1="501.5" y1="553.3" x2="501.5" y2="704.3" stroke="#56799a" stroke-width="1" />
<path d="M501.70,553.30 L503.10,557.30 L500.30,557.30 Z" fill="#56799a"/>
<path d="M501.70,704.30 L500.30,700.30 L503.10,700.30 Z" fill="#56799a"/>
<text x="499.81" y="632.4" font-size="11.2" fill="#2b2b2b" text-anchor="middle" font-weight="normal" transform="rotate(-90 499.81 632.4)" stroke="#2b2b2b" stroke-width="0.3" >86</text>
<line x1="484.5" y1="553.3" x2="484.5" y2="586.2" stroke="#56799a" stroke-width="1" />
<path d="M484.10,553.30 L485.50,557.30 L482.70,557.30 Z" fill="#56799a"/>
<path d="M484.10,586.20 L482.70,582.20 L485.50,582.20 Z" fill="#56799a"/>
<text x="482.81" y="569.7" font-size="11.2" fill="#2b2b2b" text-anchor="middle" font-weight="normal" transform="rotate(-90 482.81 569.7)" stroke="#2b2b2b" stroke-width="0.3" >18.6</text>
<line x1="484.5" y1="595.8" x2="484.5" y2="704.3" stroke="#56799a" stroke-width="1" />
<path d="M484.10,595.80 L485.50,599.80 L482.70,599.80 Z" fill="#56799a"/>
<path d="M484.10,704.30 L482.70,700.30 L485.50,700.30 Z" fill="#56799a"/>
<text x="482.81" y="650.5" font-size="11.2" fill="#2b2b2b" text-anchor="middle" font-weight="normal" transform="rotate(-90 482.81 650.5)" stroke="#2b2b2b" stroke-width="0.3" >62.1</text>
<line x1="436.5" y1="565.2" x2="436.5" y2="588.0" stroke="#56799a" stroke-width="1" />
<path d="M436.10,575.20 L434.70,571.20 L437.50,571.20 Z" fill="#56799a"/>
<path d="M436.10,578.00 L437.50,582.00 L434.70,582.00 Z" fill="#56799a"/>
<text x="432.91" y="565.5" font-size="11.2" fill="#2b2b2b" text-anchor="middle" font-weight="normal" transform="rotate(-90 432.91 565.5)" stroke="#2b2b2b" stroke-width="0.3" >1.7</text>
<line x1="451.5" y1="599.8" x2="451.5" y2="619.2" stroke="#56799a" stroke-width="1" />
<path d="M451.20,607.80 L449.80,603.80 L452.60,603.80 Z" fill="#56799a"/>
<path d="M451.20,611.20 L452.60,615.20 L449.80,615.20 Z" fill="#56799a"/>
<line x1="451.5" y1="619" x2="451.5" y2="640" stroke="#56799a" stroke-width="0.9" />
<text x="455.21" y="648.3" font-size="11.2" fill="#2b2b2b" text-anchor="middle" font-weight="normal" transform="rotate(-90 455.21 648.3)" stroke="#2b2b2b" stroke-width="0.3" >1.6</text>
<line x1="465.5" y1="615.1" x2="465.5" y2="631.1" stroke="#56799a" stroke-width="1" />
<path d="M465.60,615.10 L467.00,619.10 L464.20,619.10 Z" fill="#56799a"/>
<path d="M465.60,631.10 L464.20,627.10 L467.00,627.10 Z" fill="#56799a"/>
<text x="477.51" y="624.0" font-size="11.2" fill="#2b2b2b" text-anchor="middle" font-weight="normal" transform="rotate(-90 477.51 624.0)" stroke="#2b2b2b" stroke-width="0.3" >9.5</text>
<line x1="419.5" y1="618.8" x2="419.5" y2="644" stroke="#56799a" stroke-width="1" />
<path d="M419.50,631.10 L418.10,627.10 L420.90,627.10 Z" fill="#56799a"/>
<path d="M419.50,638.60 L420.90,642.60 L418.10,642.60 Z" fill="#56799a"/>
<text x="423.31" y="655.8" font-size="11.2" fill="#2b2b2b" text-anchor="middle" font-weight="normal" transform="rotate(-90 423.31 655.8)" stroke="#2b2b2b" stroke-width="0.3" >1.6</text>
<line x1="436.5" y1="633.1" x2="436.5" y2="704.3" stroke="#56799a" stroke-width="1" />
<path d="M436.10,633.10 L437.50,637.10 L434.70,637.10 Z" fill="#56799a"/>
<path d="M436.10,704.30 L434.70,700.30 L437.50,700.30 Z" fill="#56799a"/>
<text x="434.01" y="668.5" font-size="11.2" fill="#2b2b2b" text-anchor="middle" font-weight="normal" transform="rotate(-90 434.01 668.5)" stroke="#2b2b2b" stroke-width="0.3" >40.6</text>
<line x1="373.1" y1="609.5" x2="384.3" y2="609.5" stroke="#56799a" stroke-width="0.9" />
<line x1="373.1" y1="638.5" x2="384.3" y2="638.5" stroke="#56799a" stroke-width="0.9" />
<line x1="373.5" y1="609.0" x2="373.5" y2="638.5" stroke="#56799a" stroke-width="1" />
<path d="M373.10,609.00 L374.50,613.00 L371.70,613.00 Z" fill="#56799a"/>
<path d="M373.10,638.50 L371.70,634.50 L374.50,634.50 Z" fill="#56799a"/>
<text x="371.91" y="624.0" font-size="11.2" fill="#2b2b2b" text-anchor="middle" font-weight="normal" transform="rotate(-90 371.91 624.0)" stroke="#2b2b2b" stroke-width="0.3" >17.7</text>
<rect x="470" y="440" width="21" height="11" fill="url(#xh)" stroke="#555" stroke-width="0.9" />
<text x="494" y="448.5" font-size="11.1" fill="#2b2b2b" text-anchor="start" font-weight="normal" stroke="#2b2b2b" stroke-width="0.12" >reduced component</text>
<text x="494" y="462.0" font-size="11.1" fill="#2b2b2b" text-anchor="start" font-weight="normal" stroke="#2b2b2b" stroke-width="0.12" >height 1.65mm solder side,</text>
<text x="494" y="475.5" font-size="11.1" fill="#2b2b2b" text-anchor="start" font-weight="normal" stroke="#2b2b2b" stroke-width="0.12" >15.35mm component side</text>
<rect x="470" y="481" width="21" height="11" fill="url(#dh)" stroke="#555" stroke-width="0.9" />
<text x="494" y="490.0" font-size="11.1" fill="#2b2b2b" text-anchor="start" font-weight="normal" stroke="#2b2b2b" stroke-width="0.12" >unused space</text>
<rect x="470" y="501" width="21" height="11" fill="url(#dk)" stroke="#555" stroke-width="0.9" />
<text x="494" y="510.5" font-size="11.1" fill="#2b2b2b" text-anchor="start" font-weight="normal" stroke="#2b2b2b" stroke-width="0.12" >unused space,</text>
<text x="494" y="524.0" font-size="11.1" fill="#2b2b2b" text-anchor="start" font-weight="normal" stroke="#2b2b2b" stroke-width="0.12" >no conducting material</text>
<rect x="521.4" y="708.3" width="17.1" height="8.0" fill="url(#bh)" stroke="#3a78b8" stroke-width="1" />
<text x="541.5" y="715.6" font-size="12.85" fill="#2b2b2b" text-anchor="start" font-weight="normal" stroke="#2b2b2b" stroke-width="0.12" >unused space</text>
</svg>
</body></html>
